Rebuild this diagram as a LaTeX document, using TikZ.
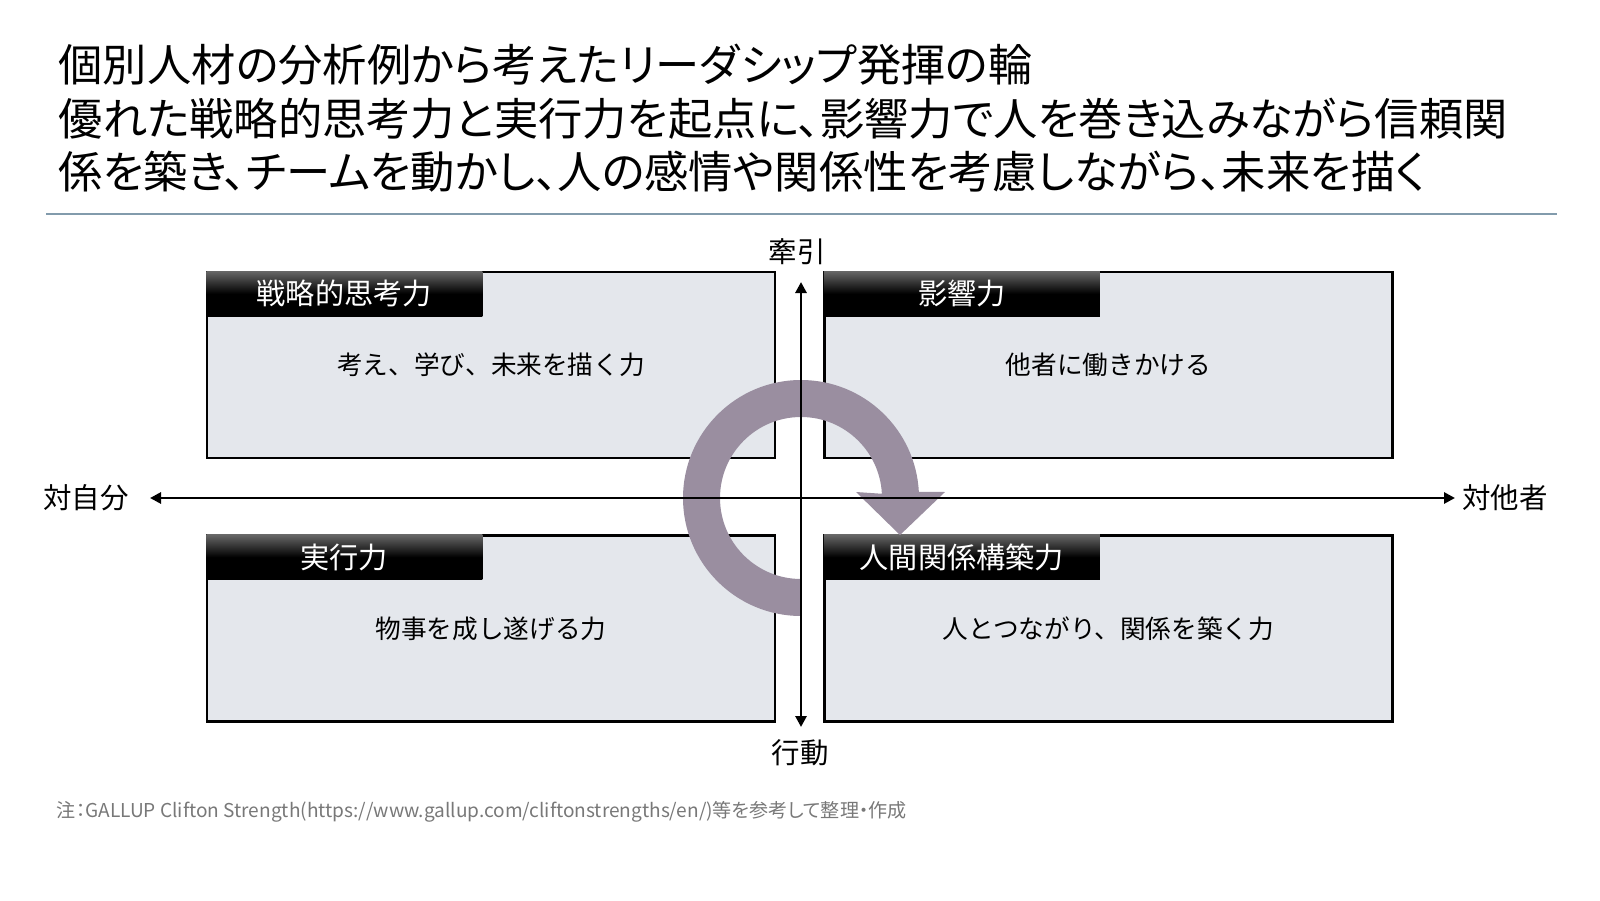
\documentclass[tikz,border=0pt]{standalone}
\usepackage{fontspec}
\setmainfont{Noto Sans CJK JP}
\newfontfamily\tightjp[RawFeature=+palt]{Noto Sans CJK JP}
\usepackage{tikz}
\usetikzlibrary{arrows.meta, calc, positioning}

\definecolor{boxgray}{RGB}{228,231,236}
\definecolor{ringcol}{RGB}{154,142,160}
\definecolor{rulecol}{RGB}{130,155,172}
\definecolor{notegray}{RGB}{120,120,120}

\tikzset{
  quad/.style={draw=black, line width=0.8pt, fill=boxgray, minimum width=5.68cm, minimum height=1.86cm, inner sep=0pt},
  head/.style={top color=black!60, bottom color=black, middle color=black, text=white, minimum width=2.76cm, minimum height=0.45cm, inner sep=0pt, anchor=north west, font=\fontsize{8.3}{10}\selectfont},
  body/.style={font=\fontsize{7.3}{9}\selectfont},
  axlabel/.style={font=\fontsize{8.1}{10}\selectfont},
  ttl/.style={anchor=base west, inner sep=0pt, font=\tightjp\fontsize{12.6}{14}\selectfont}
}

\begin{document}
\begin{tikzpicture}[>={Triangle[length=1.1mm, width=1.1mm]}]
        \useasboundingbox (0,0) rectangle (16,9);

        % Title
        \node[ttl] (t1) at (0.58,8.18) {個別人材の分析例から考えたリーダシップ発揮の輪};
        \node[ttl] (t2) at (0.58,7.64) {優れた戦略的思考力と実行力を起点に、影響力で人を巻き込みながら信頼関};
        \node[ttl] (t3) at (0.58,7.12) {係を築き、チームを動かし、人の感情や関係性を考慮しながら、未来を描く};
        \draw[rulecol, line width=0.5pt] (0.46,6.86) -- (15.57,6.86);

        % Four boxes
        \node[quad] (tl) at (4.91,5.35) {};
        \node[quad] (tr) at (11.085,5.35) {};
        \node[quad] (bl) at (4.91,2.715) {};
        \node[quad] (br) at (11.085,2.715) {};

        \node[head] (tlh) at (tl.north west) {戦略的思考力};
        \node[head] (trh) at (tr.north west) {影響力};
        \node[head] (blh) at (bl.north west) {実行力};
        \node[head] (brh) at (br.north west) {人間関係構築力};

        \node[body] (tlb) at (tl.center) {考え、学び、未来を描く力};
        \node[body] (trb) at (tr.center) {他者に働きかける};
        \node[body] (blb) at (bl.center) {物事を成し遂げる力};
        \node[body] (brb) at (br.center) {人とつながり、関係を築く力};

        % Ring arrow
        \coordinate (o) at (8.01,4.02);
        \fill[ringcol] ($(o)+(270:1.18)$) arc[start angle=270, end angle=3, radius=1.18]
            -- (9.45,4.08) -- (9.00,3.65) -- (8.56,4.08)
            -- ($(o)+(3:0.81)$) arc[start angle=3, end angle=270, radius=0.81] -- cycle;

        % Axes
        \coordinate (ytop) at (8.01,6.18);
        \coordinate (ybot) at (8.01,1.73);
        \coordinate (xlft) at (1.50,4.02);
        \coordinate (xrgt) at (14.55,4.02);
        \draw[line width=0.8pt, <->] (ybot) -- (ytop);
        \draw[line width=0.8pt, <->] (xlft) -- (xrgt);

        \node[axlabel] (up) at (7.97,6.48) {牽引};
        \node[axlabel] (down) at (8.00,1.47) {行動};
        \node[axlabel] (self) at (0.86,4.02) {対自分};
        \node[axlabel] (other) at (15.05,4.02) {対他者};

        % Note
        \node[anchor=base west, inner sep=0pt, text=notegray, font=\tightjp\fontsize{5.43}{6}\selectfont] (note) at (0.56,0.83) {注：GALLUP Clifton Strength(https://www.gallup.com/cliftonstrengths/en/)等を参考して整理・作成};
    \end{tikzpicture}
\end{document}
